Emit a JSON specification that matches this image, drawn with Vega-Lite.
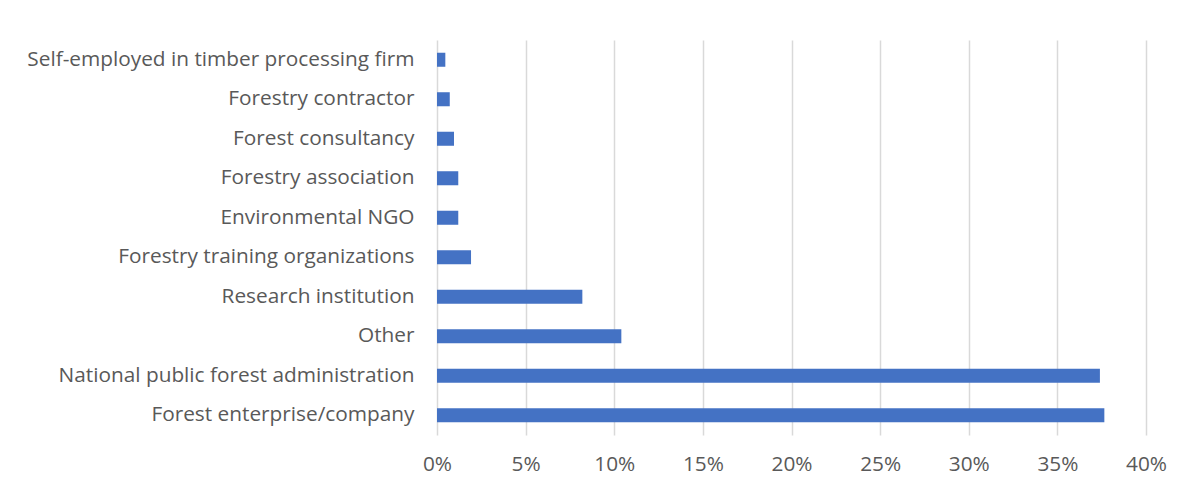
{
  "$schema": "https://vega.github.io/schema/vega-lite/v6.json",
  "autosize": {"type": "none"},
  "width": 709,
  "height": 395,
  "padding": {"left": 437, "top": 40, "right": 43, "bottom": 55},
  "background": "white",
  "config": {"view": {"stroke": null}, "font": "Open Sans"},
  "data": {
    "values": [
      {"category": "Self-employed in timber processing firm", "share": 0.0047},
      {"category": "Forestry contractor", "share": 0.0072},
      {"category": "Forest consultancy", "share": 0.0096},
      {"category": "Forestry association", "share": 0.012},
      {"category": "Environmental NGO", "share": 0.012},
      {"category": "Forestry training organizations", "share": 0.0192},
      {"category": "Research institution", "share": 0.082},
      {"category": "Other", "share": 0.104},
      {"category": "National public forest administration", "share": 0.374},
      {"category": "Forest enterprise/company", "share": 0.3765}
    ]
  },
  "mark": {"type": "bar", "color": "#4472C4"},
  "encoding": {
    "y": {
      "field": "category",
      "type": "nominal",
      "sort": null,
      "scale": {"paddingInner": 0.645, "paddingOuter": 0.3225},
      "axis": {
        "title": null,
        "ticks": false,
        "domain": false,
        "labelFontSize": 20.8,
        "labelColor": "#595959",
        "labelPadding": 23,
        "labelLimit": 0
      }
    },
    "x": {
      "field": "share",
      "type": "quantitative",
      "scale": {"domain": [0, 0.4], "nice": false},
      "axis": {
        "title": null,
        "format": ".0%",
        "values": [0, 0.05, 0.1, 0.15, 0.2, 0.25, 0.3, 0.35, 0.4],
        "ticks": false,
        "domain": false,
        "grid": true,
        "gridColor": "#d9d9d9",
        "gridWidth": 1.5,
        "labelFontSize": 20.8,
        "labelColor": "#595959",
        "labelPadding": 19,
        "labelFlush": false
      }
    }
  }
}
